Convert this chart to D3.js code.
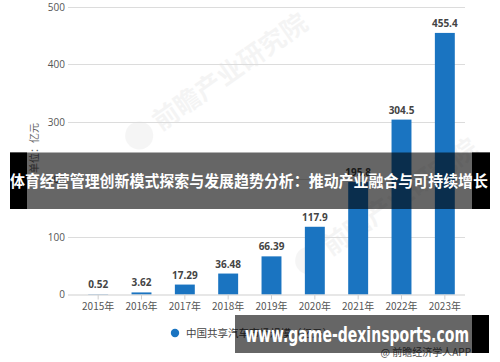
<!DOCTYPE html>
<html><head><meta charset="utf-8">
<script src="https://cdn.jsdelivr.net/npm/d3@7"></script>
<style>html,body{margin:0;padding:0;background:#fff;}svg{display:block;}</style>
</head><body>
<svg id="c" width="500" height="362"></svg>
<script>
const years = ["2015年","2016年","2017年","2018年","2019年","2020年","2021年","2022年","2023年"];
const values = [0.52, 3.62, 17.29, 36.48, 66.39, 117.9, 195.8, 304.5, 455.4];
const valueLabels = ["0.52","3.62","17.29","36.48","66.39","117.9","195.8","304.5","455.4"];
const yTicks = [0, 100, 200, 300, 400, 500];
const seriesName = "中国共享汽车市场规模（亿元）";
const yTitle = "单位：亿元";
const bannerText = "体育经营管理创新模式探索与发展趋势分析：推动产业融合与可持续增长";
const siteText = "www.game-dexinsports.com";
const sourceText = "@ 前瞻经济学人APP";
const watermarkText = "前瞻产业研究院";

const svg = d3.select("#c");
const cjk = "'Noto Sans CJK SC','Noto Sans',sans-serif";
const x = d3.scaleBand().domain(years).range([76.5, 466.5]).paddingInner(0.54).paddingOuter(0.27);
const y = d3.scaleLinear().domain([0, 500]).range([294.5, 7.3]);

// watermark
[[190, 100], [360, 225]].forEach(([wx, wy]) => {
  const g = svg.append("g").attr("transform", `translate(${wx},${wy}) rotate(-35)`).attr("opacity", 0.05);
  g.append("circle").attr("cx", -62).attr("cy", 0).attr("r", 14).attr("fill", "#555");
  g.append("text").attr("x", -42).attr("y", 9).attr("font-family", cjk).attr("font-size", 26)
    .attr("font-weight", "bold").attr("fill", "#444").text(watermarkText);
});

// grid
svg.append("g").selectAll("line").data(yTicks.filter(d => d > 0)).join("line")
  .attr("x1", 68).attr("x2", 465).attr("y1", d => y(d)).attr("y2", d => y(d))
  .attr("stroke", "#dcdcdc").attr("stroke-width", 1).attr("shape-rendering", "crispEdges");

// y axis labels
const yAxis = d3.axisLeft(y).tickValues(yTicks).tickSize(0).tickPadding(0);
const ya = svg.append("g").attr("transform", "translate(65,0)").call(yAxis);
ya.select(".domain").remove();
ya.selectAll("text").attr("font-family", "'Open Sans','Noto Sans',sans-serif").attr("font-size", 10).attr("fill", "#555");

// y title
svg.append("text").attr("transform", "translate(38,148) rotate(-90)").attr("text-anchor", "middle")
  .attr("font-family", cjk).attr("font-size", 10).attr("fill", "#666").text(yTitle);

// bars
svg.append("g").selectAll("rect").data(values).join("rect")
  .attr("x", (d, i) => x(years[i])).attr("width", x.bandwidth())
  .attr("y", d => y(d)).attr("height", d => y(0) - y(d)).attr("fill", "#1a74c1");

// value labels
svg.append("g").selectAll("text").data(values).join("text")
  .attr("x", (d, i) => x(years[i]) + x.bandwidth() / 2).attr("y", d => y(d) - 6)
  .attr("text-anchor", "middle").attr("font-family", "'Open Sans','Noto Sans',sans-serif")
  .attr("font-size", 10).attr("font-weight", "bold").attr("fill", "#444")
  .text((d, i) => valueLabels[i]);

// x axis
const xa = svg.append("g").attr("transform", `translate(0,${y(0)})`)
  .call(d3.axisBottom(x).tickSize(5).tickPadding(3));
xa.select(".domain").attr("d", "M68,0.5H465").attr("stroke", "#cfcfcf");
xa.selectAll(".tick line").attr("stroke", "#cfcfcf");
xa.selectAll("text").attr("font-family", cjk).attr("font-size", 10).attr("fill", "#555");

// legend
svg.append("circle").attr("cx", 175).attr("cy", 333).attr("r", 4.2).attr("fill", "#1a74c1");
svg.append("text").attr("x", 186).attr("y", 336.5).attr("font-family", cjk).attr("font-size", 10.5)
  .attr("fill", "#444").text(seriesName);

// source
svg.append("text").attr("x", 471).attr("y", 356).attr("text-anchor", "end").attr("font-family", cjk)
  .attr("font-size", 10).attr("fill", "#555").text(sourceText);

// overlay banner (middle)
svg.append("rect").attr("x", 10).attr("y", 152.5).attr("width", 480).attr("height", 56.5).attr("fill", "rgba(0,0,0,0.6)");
svg.append("rect").attr("x", 10).attr("y", 152.5).attr("width", 17).attr("height", 56.5).attr("fill", "#000");
svg.append("rect").attr("x", 472).attr("y", 152.5).attr("width", 18).attr("height", 56.5).attr("fill", "#000");
svg.append("text").attr("x", 249).attr("y", 186.5).attr("text-anchor", "middle").attr("font-family", cjk)
  .attr("font-size", 15.4).attr("font-weight", "bold").attr("fill", "#fff")
  .attr("textLength", 478).attr("lengthAdjust", "spacingAndGlyphs").text(bannerText);

// bottom banner
svg.append("rect").attr("x", 235).attr("y", 315).attr("width", 237).attr("height", 38).attr("fill", "rgba(0,0,0,0.6)");
svg.append("rect").attr("x", 472).attr("y", 315).attr("width", 17).attr("height", 38).attr("fill", "#000");
svg.append("text").attr("x", 245).attr("y", 342).attr("font-family", "'DejaVu Sans','Open Sans',sans-serif")
  .attr("font-size", 21).attr("font-weight", "bold").attr("fill", "#fff")
  .attr("textLength", 224).attr("lengthAdjust", "spacingAndGlyphs").text(siteText);
</script>
</body></html>
